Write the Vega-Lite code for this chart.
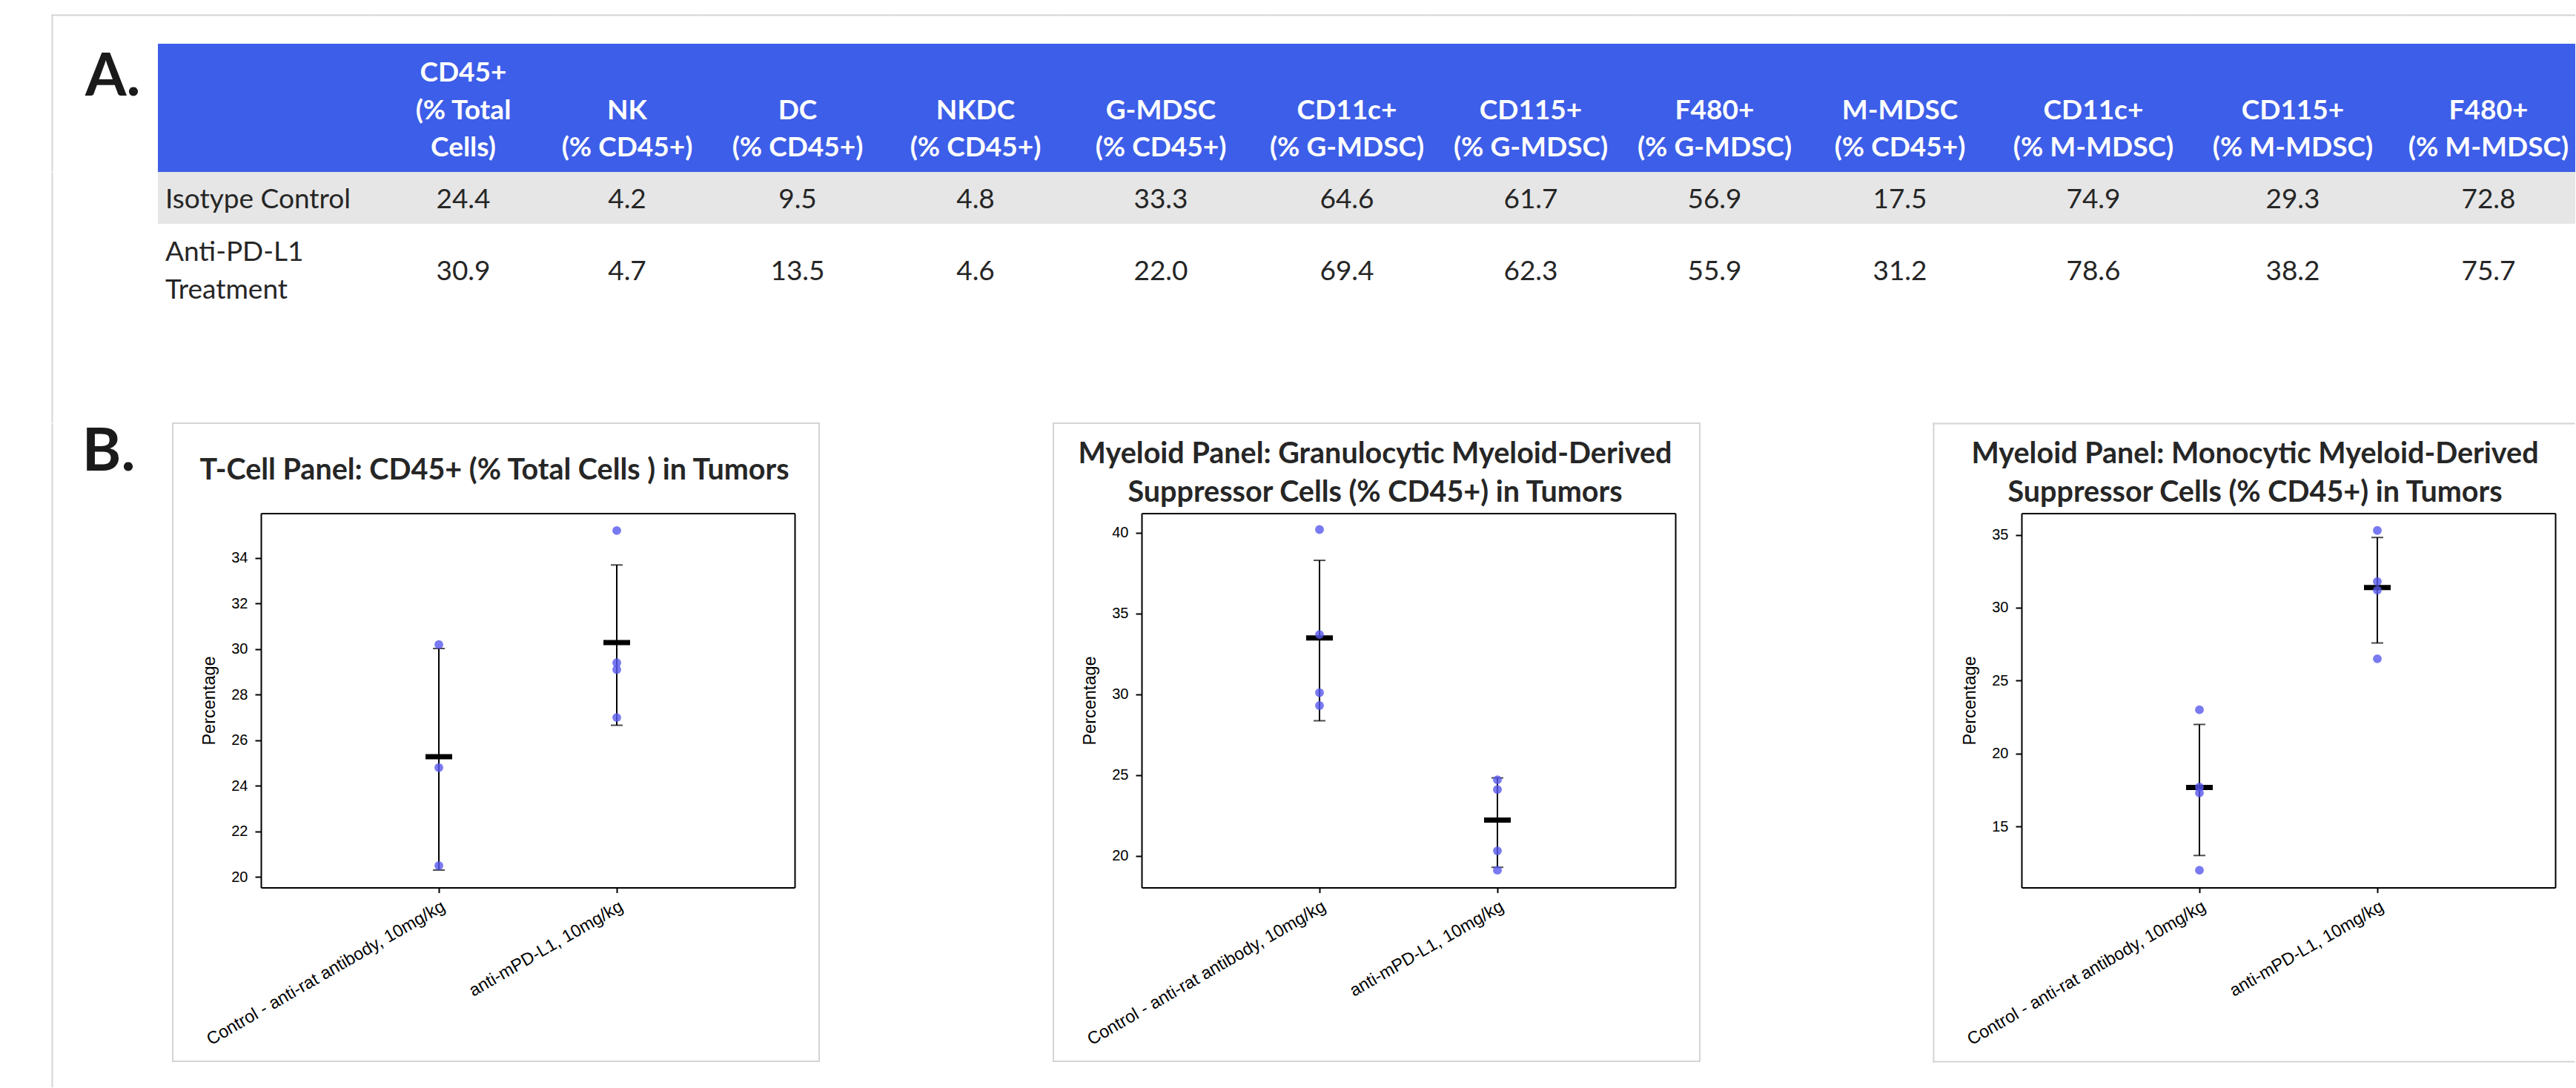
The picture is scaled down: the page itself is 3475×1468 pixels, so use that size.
{
  "$schema": "https://vega.github.io/schema/vega-lite/v6.json",
  "autosize": {"type": "pad"},
  "padding": {"left": 70, "top": 20, "right": 0, "bottom": 0},
  "background": "#ffffff",
  "datasets": {
    "tbl": [
      {"r": 1, "row": "Isotype Control", "ci": 1, "col": "CD45+\n(% Total\nCells)", "value": 24.4},
      {"r": 1, "row": "Isotype Control", "ci": 2, "col": "NK\n(% CD45+)", "value": 4.2},
      {"r": 1, "row": "Isotype Control", "ci": 3, "col": "DC\n(% CD45+)", "value": 9.5},
      {"r": 1, "row": "Isotype Control", "ci": 4, "col": "NKDC\n(% CD45+)", "value": 4.8},
      {"r": 1, "row": "Isotype Control", "ci": 5, "col": "G-MDSC\n(% CD45+)", "value": 33.3},
      {"r": 1, "row": "Isotype Control", "ci": 6, "col": "CD11c+\n(% G-MDSC)", "value": 64.6},
      {"r": 1, "row": "Isotype Control", "ci": 7, "col": "CD115+\n(% G-MDSC)", "value": 61.7},
      {"r": 1, "row": "Isotype Control", "ci": 8, "col": "F480+\n(% G-MDSC)", "value": 56.9},
      {"r": 1, "row": "Isotype Control", "ci": 9, "col": "M-MDSC\n(% CD45+)", "value": 17.5},
      {"r": 1, "row": "Isotype Control", "ci": 10, "col": "CD11c+\n(% M-MDSC)", "value": 74.9},
      {"r": 1, "row": "Isotype Control", "ci": 11, "col": "CD115+\n(% M-MDSC)", "value": 29.3},
      {"r": 1, "row": "Isotype Control", "ci": 12, "col": "F480+\n(% M-MDSC)", "value": 72.8},
      {"r": 2, "row": "Anti-PD-L1 Treatment", "ci": 1, "col": "CD45+\n(% Total\nCells)", "value": 30.9},
      {"r": 2, "row": "Anti-PD-L1 Treatment", "ci": 2, "col": "NK\n(% CD45+)", "value": 4.7},
      {"r": 2, "row": "Anti-PD-L1 Treatment", "ci": 3, "col": "DC\n(% CD45+)", "value": 13.5},
      {"r": 2, "row": "Anti-PD-L1 Treatment", "ci": 4, "col": "NKDC\n(% CD45+)", "value": 4.6},
      {"r": 2, "row": "Anti-PD-L1 Treatment", "ci": 5, "col": "G-MDSC\n(% CD45+)", "value": 22.0},
      {"r": 2, "row": "Anti-PD-L1 Treatment", "ci": 6, "col": "CD11c+\n(% G-MDSC)", "value": 69.4},
      {"r": 2, "row": "Anti-PD-L1 Treatment", "ci": 7, "col": "CD115+\n(% G-MDSC)", "value": 62.3},
      {"r": 2, "row": "Anti-PD-L1 Treatment", "ci": 8, "col": "F480+\n(% G-MDSC)", "value": 55.9},
      {"r": 2, "row": "Anti-PD-L1 Treatment", "ci": 9, "col": "M-MDSC\n(% CD45+)", "value": 31.2},
      {"r": 2, "row": "Anti-PD-L1 Treatment", "ci": 10, "col": "CD11c+\n(% M-MDSC)", "value": 78.6},
      {"r": 2, "row": "Anti-PD-L1 Treatment", "ci": 11, "col": "CD115+\n(% M-MDSC)", "value": 38.2},
      {"r": 2, "row": "Anti-PD-L1 Treatment", "ci": 12, "col": "F480+\n(% M-MDSC)", "value": 75.7}
    ],
    "p1": [
      {"group": "Control - anti-rat antibody, 10mg/kg", "value": 30.2},
      {"group": "Control - anti-rat antibody, 10mg/kg", "value": 24.8},
      {"group": "Control - anti-rat antibody, 10mg/kg", "value": 20.5},
      {"group": "anti-mPD-L1, 10mg/kg", "value": 35.2},
      {"group": "anti-mPD-L1, 10mg/kg", "value": 29.4},
      {"group": "anti-mPD-L1, 10mg/kg", "value": 29.1},
      {"group": "anti-mPD-L1, 10mg/kg", "value": 27.0}
    ],
    "p2": [
      {"group": "Control - anti-rat antibody, 10mg/kg", "value": 40.2},
      {"group": "Control - anti-rat antibody, 10mg/kg", "value": 33.7},
      {"group": "Control - anti-rat antibody, 10mg/kg", "value": 30.1},
      {"group": "Control - anti-rat antibody, 10mg/kg", "value": 29.3},
      {"group": "anti-mPD-L1, 10mg/kg", "value": 24.7},
      {"group": "anti-mPD-L1, 10mg/kg", "value": 24.1},
      {"group": "anti-mPD-L1, 10mg/kg", "value": 20.3},
      {"group": "anti-mPD-L1, 10mg/kg", "value": 19.1}
    ],
    "p3": [
      {"group": "Control - anti-rat antibody, 10mg/kg", "value": 23.0},
      {"group": "Control - anti-rat antibody, 10mg/kg", "value": 17.7},
      {"group": "Control - anti-rat antibody, 10mg/kg", "value": 17.3},
      {"group": "Control - anti-rat antibody, 10mg/kg", "value": 12.0},
      {"group": "anti-mPD-L1, 10mg/kg", "value": 35.3},
      {"group": "anti-mPD-L1, 10mg/kg", "value": 31.8},
      {"group": "anti-mPD-L1, 10mg/kg", "value": 31.2},
      {"group": "anti-mPD-L1, 10mg/kg", "value": 26.5}
    ]
  },
  "vconcat": [
    {
      "vconcat": [
        {
          "hconcat": [
            {"width": 291, "height": 173, "view": {"fill": "#3d5ee8", "stroke": null},
             "data": {"name": "tbl"}, "transform": [{"filter": "datum.r==1 && datum.ci==1"}],
             "mark": {"type": "point", "opacity": 0},
             "encoding": {
               "x": {"datum": 0.5, "type": "quantitative", "scale": {"domain": [0, 1], "range": [0, 433]},
                     "axis": {"orient": "top", "offset": 39, "position": -143, "domainColor": "#d4d4d4", "domainCap": "square", "ticks": false, "labels": false, "title": null}},
               "y": {"datum": 0.5, "type": "quantitative", "scale": {"domain": [0, 1], "range": [210, 0]},
                     "axis": {"orient": "left", "offset": 143, "position": -39, "domainColor": "#d4d4d4", "domainCap": "square", "ticks": false, "labels": false,
                              "title": "A.", "titleX": 119, "titleY": 45, "titleAlign": "right", "titleBaseline": "top", "titleAngle": 0,
                              "titleFont": "Lato", "titleFontSize": 80, "titleFontWeight": "bold", "titleColor": "#1a1a1a"}}
             }},
            {"width": 242, "height": 173, "view": {"fill": "#3d5ee8", "stroke": null}, "data": {"name": "tbl"}, "transform": [{"filter": "datum.r==1 && datum.ci==1"}], "mark": {"type": "text", "style": "hdr3"}, "encoding": {"x": {"datum": 0.5, "type": "quantitative", "scale": {"domain": [0, 1], "range": [1, 241]}, "axis": {"orient": "top", "offset": 39, "domainColor": "#d4d4d4", "domainCap": "square", "ticks": false, "labels": false, "title": null}}, "text": {"field": "col", "type": "nominal"}}},
            {"width": 200, "height": 173, "view": {"fill": "#3d5ee8", "stroke": null}, "data": {"name": "tbl"}, "transform": [{"filter": "datum.r==1 && datum.ci==2"}], "mark": {"type": "text", "style": "hdr"}, "encoding": {"x": {"datum": 0.5, "type": "quantitative", "scale": {"domain": [0, 1], "range": [1, 199]}, "axis": {"orient": "top", "offset": 39, "domainColor": "#d4d4d4", "domainCap": "square", "ticks": false, "labels": false, "title": null}}, "text": {"field": "col", "type": "nominal"}}},
            {"width": 260, "height": 173, "view": {"fill": "#3d5ee8", "stroke": null}, "data": {"name": "tbl"}, "transform": [{"filter": "datum.r==1 && datum.ci==3"}], "mark": {"type": "text", "style": "hdr"}, "encoding": {"x": {"datum": 0.5, "type": "quantitative", "scale": {"domain": [0, 1], "range": [1, 259]}, "axis": {"orient": "top", "offset": 39, "domainColor": "#d4d4d4", "domainCap": "square", "ticks": false, "labels": false, "title": null}}, "text": {"field": "col", "type": "nominal"}}},
            {"width": 220, "height": 173, "view": {"fill": "#3d5ee8", "stroke": null}, "data": {"name": "tbl"}, "transform": [{"filter": "datum.r==1 && datum.ci==4"}], "mark": {"type": "text", "style": "hdr"}, "encoding": {"x": {"datum": 0.5, "type": "quantitative", "scale": {"domain": [0, 1], "range": [1, 219]}, "axis": {"orient": "top", "offset": 39, "domainColor": "#d4d4d4", "domainCap": "square", "ticks": false, "labels": false, "title": null}}, "text": {"field": "col", "type": "nominal"}}},
            {"width": 280, "height": 173, "view": {"fill": "#3d5ee8", "stroke": null}, "data": {"name": "tbl"}, "transform": [{"filter": "datum.r==1 && datum.ci==5"}], "mark": {"type": "text", "style": "hdr"}, "encoding": {"x": {"datum": 0.5, "type": "quantitative", "scale": {"domain": [0, 1], "range": [1, 279]}, "axis": {"orient": "top", "offset": 39, "domainColor": "#d4d4d4", "domainCap": "square", "ticks": false, "labels": false, "title": null}}, "text": {"field": "col", "type": "nominal"}}},
            {"width": 222, "height": 173, "view": {"fill": "#3d5ee8", "stroke": null}, "data": {"name": "tbl"}, "transform": [{"filter": "datum.r==1 && datum.ci==6"}], "mark": {"type": "text", "style": "hdr"}, "encoding": {"x": {"datum": 0.5, "type": "quantitative", "scale": {"domain": [0, 1], "range": [1, 221]}, "axis": {"orient": "top", "offset": 39, "domainColor": "#d4d4d4", "domainCap": "square", "ticks": false, "labels": false, "title": null}}, "text": {"field": "col", "type": "nominal"}}},
            {"width": 274, "height": 173, "view": {"fill": "#3d5ee8", "stroke": null}, "data": {"name": "tbl"}, "transform": [{"filter": "datum.r==1 && datum.ci==7"}], "mark": {"type": "text", "style": "hdr"}, "encoding": {"x": {"datum": 0.5, "type": "quantitative", "scale": {"domain": [0, 1], "range": [1, 273]}, "axis": {"orient": "top", "offset": 39, "domainColor": "#d4d4d4", "domainCap": "square", "ticks": false, "labels": false, "title": null}}, "text": {"field": "col", "type": "nominal"}}},
            {"width": 222, "height": 173, "view": {"fill": "#3d5ee8", "stroke": null}, "data": {"name": "tbl"}, "transform": [{"filter": "datum.r==1 && datum.ci==8"}], "mark": {"type": "text", "style": "hdr"}, "encoding": {"x": {"datum": 0.5, "type": "quantitative", "scale": {"domain": [0, 1], "range": [1, 221]}, "axis": {"orient": "top", "offset": 39, "domainColor": "#d4d4d4", "domainCap": "square", "ticks": false, "labels": false, "title": null}}, "text": {"field": "col", "type": "nominal"}}},
            {"width": 278, "height": 173, "view": {"fill": "#3d5ee8", "stroke": null}, "data": {"name": "tbl"}, "transform": [{"filter": "datum.r==1 && datum.ci==9"}], "mark": {"type": "text", "style": "hdr"}, "encoding": {"x": {"datum": 0.5, "type": "quantitative", "scale": {"domain": [0, 1], "range": [1, 277]}, "axis": {"orient": "top", "offset": 39, "domainColor": "#d4d4d4", "domainCap": "square", "ticks": false, "labels": false, "title": null}}, "text": {"field": "col", "type": "nominal"}}},
            {"width": 244, "height": 173, "view": {"fill": "#3d5ee8", "stroke": null}, "data": {"name": "tbl"}, "transform": [{"filter": "datum.r==1 && datum.ci==10"}], "mark": {"type": "text", "style": "hdr"}, "encoding": {"x": {"datum": 0.5, "type": "quantitative", "scale": {"domain": [0, 1], "range": [1, 243]}, "axis": {"orient": "top", "offset": 39, "domainColor": "#d4d4d4", "domainCap": "square", "ticks": false, "labels": false, "title": null}}, "text": {"field": "col", "type": "nominal"}}},
            {"width": 294, "height": 173, "view": {"fill": "#3d5ee8", "stroke": null}, "data": {"name": "tbl"}, "transform": [{"filter": "datum.r==1 && datum.ci==11"}], "mark": {"type": "text", "style": "hdr"}, "encoding": {"x": {"datum": 0.5, "type": "quantitative", "scale": {"domain": [0, 1], "range": [1, 293]}, "axis": {"orient": "top", "offset": 39, "domainColor": "#d4d4d4", "domainCap": "square", "ticks": false, "labels": false, "title": null}}, "text": {"field": "col", "type": "nominal"}}},
            {"width": 234, "height": 173, "view": {"fill": "#3d5ee8", "stroke": null}, "data": {"name": "tbl"}, "transform": [{"filter": "datum.r==1 && datum.ci==12"}], "mark": {"type": "text", "style": "hdr"}, "encoding": {"x": {"datum": 0.5, "type": "quantitative", "scale": {"domain": [0, 1], "range": [1, 233]}, "axis": {"orient": "top", "offset": 39, "domainColor": "#d4d4d4", "domainCap": "square", "ticks": false, "labels": false, "title": null}}, "text": {"field": "col", "type": "nominal"}}}
          ],
          "spacing": 0, "bounds": "full"
        },
        {
          "hconcat": [
            {"width": 291, "height": 70, "view": {"fill": "#e6e6e6", "stroke": null}, "data": {"name": "tbl"}, "transform": [{"filter": "datum.r==1 && datum.ci==1"}], "mark": {"type": "text", "style": "lbl"},
             "encoding": {"y": {"datum": 0.5, "type": "quantitative", "scale": {"domain": [0, 1], "range": [69, 1]}, "axis": {"orient": "left", "offset": 143, "domainColor": "#d4d4d4", "domainCap": "square", "ticks": false, "labels": false, "title": null}}, "text": {"field": "row", "type": "nominal"}}},
            {"width": 242, "height": 70, "view": {"fill": "#e6e6e6", "stroke": null}, "data": {"name": "tbl"}, "transform": [{"filter": "datum.r==1 && datum.ci==1"}], "mark": {"type": "text", "style": "val"}, "encoding": {"text": {"field": "value", "type": "quantitative", "format": ".1f"}}},
            {"width": 200, "height": 70, "view": {"fill": "#e6e6e6", "stroke": null}, "data": {"name": "tbl"}, "transform": [{"filter": "datum.r==1 && datum.ci==2"}], "mark": {"type": "text", "style": "val"}, "encoding": {"text": {"field": "value", "type": "quantitative", "format": ".1f"}}},
            {"width": 260, "height": 70, "view": {"fill": "#e6e6e6", "stroke": null}, "data": {"name": "tbl"}, "transform": [{"filter": "datum.r==1 && datum.ci==3"}], "mark": {"type": "text", "style": "val"}, "encoding": {"text": {"field": "value", "type": "quantitative", "format": ".1f"}}},
            {"width": 220, "height": 70, "view": {"fill": "#e6e6e6", "stroke": null}, "data": {"name": "tbl"}, "transform": [{"filter": "datum.r==1 && datum.ci==4"}], "mark": {"type": "text", "style": "val"}, "encoding": {"text": {"field": "value", "type": "quantitative", "format": ".1f"}}},
            {"width": 280, "height": 70, "view": {"fill": "#e6e6e6", "stroke": null}, "data": {"name": "tbl"}, "transform": [{"filter": "datum.r==1 && datum.ci==5"}], "mark": {"type": "text", "style": "val"}, "encoding": {"text": {"field": "value", "type": "quantitative", "format": ".1f"}}},
            {"width": 222, "height": 70, "view": {"fill": "#e6e6e6", "stroke": null}, "data": {"name": "tbl"}, "transform": [{"filter": "datum.r==1 && datum.ci==6"}], "mark": {"type": "text", "style": "val"}, "encoding": {"text": {"field": "value", "type": "quantitative", "format": ".1f"}}},
            {"width": 274, "height": 70, "view": {"fill": "#e6e6e6", "stroke": null}, "data": {"name": "tbl"}, "transform": [{"filter": "datum.r==1 && datum.ci==7"}], "mark": {"type": "text", "style": "val"}, "encoding": {"text": {"field": "value", "type": "quantitative", "format": ".1f"}}},
            {"width": 222, "height": 70, "view": {"fill": "#e6e6e6", "stroke": null}, "data": {"name": "tbl"}, "transform": [{"filter": "datum.r==1 && datum.ci==8"}], "mark": {"type": "text", "style": "val"}, "encoding": {"text": {"field": "value", "type": "quantitative", "format": ".1f"}}},
            {"width": 278, "height": 70, "view": {"fill": "#e6e6e6", "stroke": null}, "data": {"name": "tbl"}, "transform": [{"filter": "datum.r==1 && datum.ci==9"}], "mark": {"type": "text", "style": "val"}, "encoding": {"text": {"field": "value", "type": "quantitative", "format": ".1f"}}},
            {"width": 244, "height": 70, "view": {"fill": "#e6e6e6", "stroke": null}, "data": {"name": "tbl"}, "transform": [{"filter": "datum.r==1 && datum.ci==10"}], "mark": {"type": "text", "style": "val"}, "encoding": {"text": {"field": "value", "type": "quantitative", "format": ".1f"}}},
            {"width": 294, "height": 70, "view": {"fill": "#e6e6e6", "stroke": null}, "data": {"name": "tbl"}, "transform": [{"filter": "datum.r==1 && datum.ci==11"}], "mark": {"type": "text", "style": "val"}, "encoding": {"text": {"field": "value", "type": "quantitative", "format": ".1f"}}},
            {"width": 234, "height": 70, "view": {"fill": "#e6e6e6", "stroke": null}, "data": {"name": "tbl"}, "transform": [{"filter": "datum.r==1 && datum.ci==12"}], "mark": {"type": "text", "style": "val"}, "encoding": {"text": {"field": "value", "type": "quantitative", "format": ".1f"}}}
          ],
          "spacing": 0, "bounds": "full"
        },
        {
          "hconcat": [
            {"width": 291, "height": 124, "data": {"name": "tbl"}, "transform": [{"filter": "datum.r==2 && datum.ci==1"}], "mark": {"type": "text", "style": "lbl2"},
             "encoding": {"y": {"datum": 0.5, "type": "quantitative", "scale": {"domain": [0, 1], "range": [123, 1]}, "axis": {"orient": "left", "offset": 143, "domainColor": "#d4d4d4", "domainCap": "square", "ticks": false, "labels": false, "title": null}}, "text": {"field": "row", "type": "nominal"}}},
            {"width": 242, "height": 124, "data": {"name": "tbl"}, "transform": [{"filter": "datum.r==2 && datum.ci==1"}], "mark": {"type": "text", "style": "val"}, "encoding": {"text": {"field": "value", "type": "quantitative", "format": ".1f"}}},
            {"width": 200, "height": 124, "data": {"name": "tbl"}, "transform": [{"filter": "datum.r==2 && datum.ci==2"}], "mark": {"type": "text", "style": "val"}, "encoding": {"text": {"field": "value", "type": "quantitative", "format": ".1f"}}},
            {"width": 260, "height": 124, "data": {"name": "tbl"}, "transform": [{"filter": "datum.r==2 && datum.ci==3"}], "mark": {"type": "text", "style": "val"}, "encoding": {"text": {"field": "value", "type": "quantitative", "format": ".1f"}}},
            {"width": 220, "height": 124, "data": {"name": "tbl"}, "transform": [{"filter": "datum.r==2 && datum.ci==4"}], "mark": {"type": "text", "style": "val"}, "encoding": {"text": {"field": "value", "type": "quantitative", "format": ".1f"}}},
            {"width": 280, "height": 124, "data": {"name": "tbl"}, "transform": [{"filter": "datum.r==2 && datum.ci==5"}], "mark": {"type": "text", "style": "val"}, "encoding": {"text": {"field": "value", "type": "quantitative", "format": ".1f"}}},
            {"width": 222, "height": 124, "data": {"name": "tbl"}, "transform": [{"filter": "datum.r==2 && datum.ci==6"}], "mark": {"type": "text", "style": "val"}, "encoding": {"text": {"field": "value", "type": "quantitative", "format": ".1f"}}},
            {"width": 274, "height": 124, "data": {"name": "tbl"}, "transform": [{"filter": "datum.r==2 && datum.ci==7"}], "mark": {"type": "text", "style": "val"}, "encoding": {"text": {"field": "value", "type": "quantitative", "format": ".1f"}}},
            {"width": 222, "height": 124, "data": {"name": "tbl"}, "transform": [{"filter": "datum.r==2 && datum.ci==8"}], "mark": {"type": "text", "style": "val"}, "encoding": {"text": {"field": "value", "type": "quantitative", "format": ".1f"}}},
            {"width": 278, "height": 124, "data": {"name": "tbl"}, "transform": [{"filter": "datum.r==2 && datum.ci==9"}], "mark": {"type": "text", "style": "val"}, "encoding": {"text": {"field": "value", "type": "quantitative", "format": ".1f"}}},
            {"width": 244, "height": 124, "data": {"name": "tbl"}, "transform": [{"filter": "datum.r==2 && datum.ci==10"}], "mark": {"type": "text", "style": "val"}, "encoding": {"text": {"field": "value", "type": "quantitative", "format": ".1f"}}},
            {"width": 294, "height": 124, "data": {"name": "tbl"}, "transform": [{"filter": "datum.r==2 && datum.ci==11"}], "mark": {"type": "text", "style": "val"}, "encoding": {"text": {"field": "value", "type": "quantitative", "format": ".1f"}}},
            {"width": 234, "height": 124, "data": {"name": "tbl"}, "transform": [{"filter": "datum.r==2 && datum.ci==12"}], "mark": {"type": "text", "style": "val"}, "encoding": {"text": {"field": "value", "type": "quantitative", "format": ".1f"}}}
          ],
          "spacing": 0, "bounds": "full"
        }
      ],
      "spacing": 0, "bounds": "full"
    },
    {"width": 291, "height": 144, "data": {"name": "tbl"}, "transform": [{"filter": "datum.r==1 && datum.ci==1"}], "mark": {"type": "point", "opacity": 0},
     "encoding": {"y": {"datum": 0.5, "type": "quantitative", "scale": {"domain": [0, 1], "range": [143, 1]}, "axis": {"orient": "left", "offset": 143, "domainColor": "#d4d4d4", "domainCap": "square", "ticks": false, "labels": false, "title": null}}}},
    {
      "hconcat": [
        {"width": 19, "height": 896, "data": {"name": "tbl"}, "transform": [{"filter": "datum.r==1 && datum.ci==1"}], "mark": {"type": "point", "opacity": 0},
         "encoding": {"y": {"datum": 0.5, "type": "quantitative", "scale": {"domain": [0, 1], "range": [895, 1]},
                            "axis": {"orient": "left", "offset": 143, "domainColor": "#d4d4d4", "domainCap": "square", "ticks": false, "labels": false,
                                     "title": "B.", "titleX": 112, "titleY": 0, "titleAlign": "right", "titleBaseline": "top", "titleAngle": 0,
                                     "titleFont": "Lato", "titleFontSize": 80, "titleFontWeight": "bold", "titleColor": "#1a1a1a"}}}},
        {
          "hconcat": [
            {
              "width": 872, "height": 861,
              "view": {"stroke": "#d4d4d4", "strokeWidth": 2},
              "title": {"text": "T-Cell Panel: CD45+ (% Total Cells ) in Tumors", "offset": -84, "dx": -2},
              "data": {"name": "p1"},
              "resolve": {"axis": {"x": "independent", "y": "independent"}},
              "layer": [
                {"mark": {"type": "errorbar", "extent": "stdev", "color": "#000000", "ticks": true, "size": 16, "thickness": 2},
                 "encoding": {
                   "x": {"field": "group", "type": "nominal", "scale": {"type": "point", "domain": ["Control - anti-rat antibody, 10mg/kg", "anti-mPD-L1, 10mg/kg"], "range": [119, 839], "padding": 1}, "axis": null},
                   "y": {"field": "value", "type": "quantitative", "scale": {"domain": [19.54, 35.96], "range": [626.5, 121.5], "nice": false, "zero": false}, "axis": null}}},
                {"mark": {"type": "tick", "color": "#000000", "size": 36, "thickness": 7, "yOffset": -3.5},
                 "encoding": {
                   "x": {"field": "group", "type": "nominal", "scale": {"type": "point", "domain": ["Control - anti-rat antibody, 10mg/kg", "anti-mPD-L1, 10mg/kg"], "range": [119, 839], "padding": 1},
                         "axis": {"orient": "top", "offset": -121.5, "labels": false, "ticks": false, "title": null}},
                   "y": {"aggregate": "mean", "field": "value", "type": "quantitative", "scale": {"domain": [19.54, 35.96], "range": [626.5, 121.5], "nice": false, "zero": false},
                         "axis": {"orient": "right", "offset": -33, "labels": false, "ticks": false, "title": null}}}},
                {"mark": {"type": "point", "filled": true, "size": 140, "color": "#5757ee", "opacity": 0.8},
                 "encoding": {
                   "x": {"field": "group", "type": "nominal", "scale": {"type": "point", "domain": ["Control - anti-rat antibody, 10mg/kg", "anti-mPD-L1, 10mg/kg"], "range": [119, 839], "padding": 1},
                         "axis": {"orient": "bottom", "offset": -234.5, "title": null, "labelAngle": -30, "labelFontSize": 23.5, "labelLimit": 0, "labelOverlap": false, "labelPadding": 6, "tickSize": 7}},
                   "y": {"field": "value", "type": "quantitative", "scale": {"domain": [19.54, 35.96], "range": [626.5, 121.5], "nice": false, "zero": false},
                         "axis": {"orient": "left", "offset": -119, "values": [20, 22, 24, 26, 28, 30, 32, 34], "title": "Percentage", "titleX": -63, "titleY": 374, "titleAngle": -90, "titleBaseline": "alphabetic", "titleAlign": "center", "titleFontSize": 23.5, "titleFontWeight": "normal", "labelFontSize": 20, "labelPadding": 10, "tickSize": 8}}}}
              ]
            },
            {
              "width": 872, "height": 861,
              "view": {"stroke": "#d4d4d4", "strokeWidth": 2},
              "title": {"text": ["Myeloid Panel: Granulocytic Myeloid-Derived", "Suppressor Cells (% CD45+) in Tumors"], "offset": -114, "dx": -2},
              "data": {"name": "p2"},
              "resolve": {"axis": {"x": "independent", "y": "independent"}},
              "layer": [
                {"mark": {"type": "errorbar", "extent": "stdev", "color": "#000000", "ticks": true, "size": 16, "thickness": 2},
                 "encoding": {
                   "x": {"field": "group", "type": "nominal", "scale": {"type": "point", "domain": ["Control - anti-rat antibody, 10mg/kg", "anti-mPD-L1, 10mg/kg"], "range": [119, 839], "padding": 1}, "axis": null},
                   "y": {"field": "value", "type": "quantitative", "scale": {"domain": [18.03, 41.21], "range": [626.5, 121.5], "nice": false, "zero": false}, "axis": null}}},
                {"mark": {"type": "tick", "color": "#000000", "size": 36, "thickness": 7, "yOffset": -3.5},
                 "encoding": {
                   "x": {"field": "group", "type": "nominal", "scale": {"type": "point", "domain": ["Control - anti-rat antibody, 10mg/kg", "anti-mPD-L1, 10mg/kg"], "range": [119, 839], "padding": 1},
                         "axis": {"orient": "top", "offset": -121.5, "labels": false, "ticks": false, "title": null}},
                   "y": {"aggregate": "mean", "field": "value", "type": "quantitative", "scale": {"domain": [18.03, 41.21], "range": [626.5, 121.5], "nice": false, "zero": false},
                         "axis": {"orient": "right", "offset": -33, "labels": false, "ticks": false, "title": null}}}},
                {"mark": {"type": "point", "filled": true, "size": 140, "color": "#5757ee", "opacity": 0.8},
                 "encoding": {
                   "x": {"field": "group", "type": "nominal", "scale": {"type": "point", "domain": ["Control - anti-rat antibody, 10mg/kg", "anti-mPD-L1, 10mg/kg"], "range": [119, 839], "padding": 1},
                         "axis": {"orient": "bottom", "offset": -234.5, "title": null, "labelAngle": -30, "labelFontSize": 23.5, "labelLimit": 0, "labelOverlap": false, "labelPadding": 6, "tickSize": 7}},
                   "y": {"field": "value", "type": "quantitative", "scale": {"domain": [18.03, 41.21], "range": [626.5, 121.5], "nice": false, "zero": false},
                         "axis": {"orient": "left", "offset": -119, "values": [20, 25, 30, 35, 40], "title": "Percentage", "titleX": -63, "titleY": 374, "titleAngle": -90, "titleBaseline": "alphabetic", "titleAlign": "center", "titleFontSize": 23.5, "titleFontWeight": "normal", "labelFontSize": 20, "labelPadding": 10, "tickSize": 8}}}}
              ]
            },
            {
              "width": 864, "height": 861,
              "view": {"stroke": null},
              "title": {"text": ["Myeloid Panel: Monocytic Myeloid-Derived", "Suppressor Cells (% CD45+) in Tumors"], "offset": -114, "dx": 2},
              "data": {"name": "p3"},
              "resolve": {"scale": {"x": "independent", "y": "independent"}, "axis": {"x": "independent", "y": "independent"}},
              "layer": [
                {"mark": {"type": "point", "opacity": 0},
                 "encoding": {
                   "x": {"datum": 0.5, "type": "quantitative", "scale": {"domain": [0, 1], "range": [0, 864]}, "axis": {"orient": "top", "offset": 0, "domainColor": "#d4d4d4", "domainCap": "square", "ticks": false, "labels": false, "title": null}},
                   "y": {"datum": 0.5, "type": "quantitative", "scale": {"domain": [0, 1], "range": [861, 0]}, "axis": {"orient": "left", "offset": 0, "domainColor": "#d4d4d4", "domainCap": "square", "ticks": false, "labels": false, "title": null}}}},
                {"mark": {"type": "point", "opacity": 0},
                 "encoding": {
                   "x": {"datum": 0.5, "type": "quantitative", "scale": {"domain": [0, 1], "range": [0, 864]}, "axis": {"orient": "bottom", "offset": 0, "domainColor": "#d4d4d4", "domainCap": "square", "ticks": false, "labels": false, "title": null}},
                   "y": {"datum": 0.5, "type": "quantitative", "scale": {"domain": [0, 1], "range": [861, 0]}, "axis": null}}},
                {"mark": {"type": "errorbar", "extent": "stdev", "color": "#000000", "ticks": true, "size": 16, "thickness": 2},
                 "encoding": {
                   "x": {"field": "group", "type": "nominal", "scale": {"type": "point", "domain": ["Control - anti-rat antibody, 10mg/kg", "anti-mPD-L1, 10mg/kg"], "range": [119, 839], "padding": 1}, "axis": null},
                   "y": {"field": "value", "type": "quantitative", "scale": {"domain": [10.81, 36.48], "range": [626.5, 121.5], "nice": false, "zero": false}, "axis": null}}},
                {"mark": {"type": "tick", "color": "#000000", "size": 36, "thickness": 7, "yOffset": -3.5},
                 "encoding": {
                   "x": {"field": "group", "type": "nominal", "scale": {"type": "point", "domain": ["Control - anti-rat antibody, 10mg/kg", "anti-mPD-L1, 10mg/kg"], "range": [119, 839], "padding": 1},
                         "axis": {"orient": "top", "offset": -121.5, "labels": false, "ticks": false, "title": null}},
                   "y": {"aggregate": "mean", "field": "value", "type": "quantitative", "scale": {"domain": [10.81, 36.48], "range": [626.5, 121.5], "nice": false, "zero": false},
                         "axis": {"orient": "right", "offset": -25, "labels": false, "ticks": false, "title": null}}}},
                {"mark": {"type": "point", "filled": true, "size": 140, "color": "#5757ee", "opacity": 0.8},
                 "encoding": {
                   "x": {"field": "group", "type": "nominal", "scale": {"type": "point", "domain": ["Control - anti-rat antibody, 10mg/kg", "anti-mPD-L1, 10mg/kg"], "range": [119, 839], "padding": 1},
                         "axis": {"orient": "bottom", "offset": -234.5, "title": null, "labelAngle": -30, "labelFontSize": 23.5, "labelLimit": 0, "labelOverlap": false, "labelPadding": 6, "tickSize": 7}},
                   "y": {"field": "value", "type": "quantitative", "scale": {"domain": [10.81, 36.48], "range": [626.5, 121.5], "nice": false, "zero": false},
                         "axis": {"orient": "left", "offset": -119, "values": [15, 20, 25, 30, 35], "title": "Percentage", "titleX": -63, "titleY": 374, "titleAngle": -90, "titleBaseline": "alphabetic", "titleAlign": "center", "titleFontSize": 23.5, "titleFontWeight": "normal", "labelFontSize": 20, "labelPadding": 10, "tickSize": 8}}}}
              ]
            }
          ],
          "spacing": 314, "bounds": "full"
        }
      ],
      "spacing": 0, "bounds": "full"
    }
  ],
  "spacing": 0,
  "bounds": "full",
  "config": {
    "view": {"stroke": null},
    "axis": {"domainColor": "#000000", "domainWidth": 2, "tickColor": "#000000", "tickWidth": 2, "labelColor": "#000000", "titleColor": "#000000", "labelFont": "Liberation Sans", "titleFont": "Liberation Sans", "grid": false, "minExtent": 0},
    "title": {"font": "Lato", "fontSize": 39.5, "fontWeight": "bold", "color": "#262626", "anchor": "middle", "frame": "group", "baseline": "alphabetic", "lineHeight": 51.5},
    "style": {
      "hdr": {"font": "Lato", "fontSize": 37, "fontWeight": "bold", "color": "#ffffff", "lineBreak": "\n", "lineHeight": 50.7, "baseline": "alphabetic", "dy": 15.2},
      "hdr3": {"font": "Lato", "fontSize": 37, "fontWeight": "bold", "color": "#ffffff", "lineBreak": "\n", "lineHeight": 50.7, "baseline": "alphabetic", "dy": -35.5},
      "val": {"font": "Lato", "fontSize": 37, "color": "#262626", "baseline": "middle", "dy": 2.5},
      "lbl": {"font": "Lato", "fontSize": 37, "color": "#262626", "baseline": "middle", "align": "left", "dx": -135.5, "dy": 2.5},
      "lbl2": {"font": "Lato", "fontSize": 37, "color": "#262626", "baseline": "middle", "align": "left", "dx": -135.5, "dy": -23.3, "lineBreak": " ", "lineHeight": 51.7}
    }
  }
}
